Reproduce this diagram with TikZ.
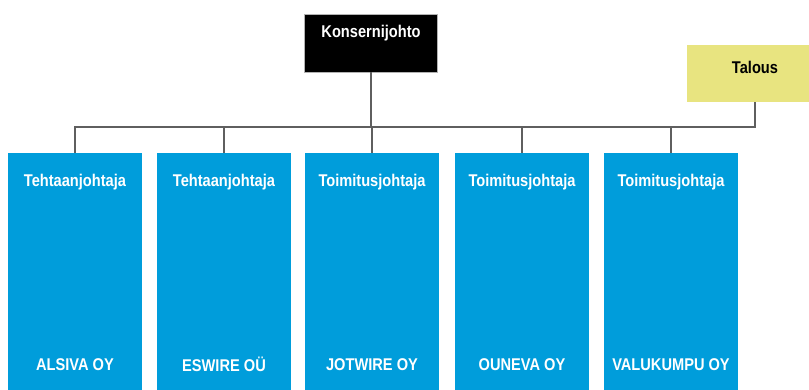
\documentclass[tikz,border=0pt]{standalone}
\usepackage{fontspec}
\setmainfont{Liberation Sans}[FakeStretch=0.86]
\definecolor{unitblue}{RGB}{0,157,219}
\definecolor{talousyellow}{RGB}{232,228,128}
\definecolor{linkgray}{RGB}{95,95,95}

\begin{document}
\begin{tikzpicture}[x=1pt,y=-1pt,
  unit/.style={fill=unitblue,minimum width=134pt,minimum height=237pt,inner sep=0pt},
  boxtext/.style={text=white,font=\bfseries\fontsize{17}{20}\selectfont,inner sep=0pt},
  link/.style={draw=linkgray,line width=1.6pt}]
  \useasboundingbox (0,0) rectangle (809,390);

  % top level
  \node[fill=black,draw=gray!60,line width=0.8pt,minimum width=133pt,minimum height=58pt] (konserni) at (371,43) {};
  \node[boxtext] (konsernitext) at ([yshift=10pt]konserni.center) {Konsernijohto};
  \node[fill=talousyellow,minimum width=136pt,minimum height=57pt,inner sep=0pt] (talous) at (755,73.5) {};
  \node[boxtext,text=black] (taloustext) at ([yshift=6.5pt]talous.center) {Talous};

  % units
  \node[unit] (alsiva) at (75,271.5) {};
  \node[unit] (eswire) at (224,271.5) {};
  \node[unit] (jotwire) at (372,271.5) {};
  \node[unit] (ouneva) at (522,271.5) {};
  \node[unit] (valukumpu) at (671,271.5) {};

  \node[boxtext] (alsivarole) at ([yshift=-29pt]alsiva.north) {Tehtaanjohtaja};
  \node[boxtext] (eswirerole) at ([yshift=-29pt]eswire.north) {Tehtaanjohtaja};
  \node[boxtext] (jotwirerole) at ([yshift=-29pt]jotwire.north) {Toimitusjohtaja};
  \node[boxtext] (ounevarole) at ([yshift=-29pt]ouneva.north) {Toimitusjohtaja};
  \node[boxtext] (valukumpurole) at ([yshift=-29pt]valukumpu.north) {Toimitusjohtaja};

  \node[boxtext] (alsivaname) at ([yshift=26pt]alsiva.south) {ALSIVA OY};
  \node[boxtext] (eswirename) at ([yshift=26pt]eswire.south) {ESWIRE OÜ};
  \node[boxtext] (jotwirename) at ([yshift=26pt]jotwire.south) {JOTWIRE OY};
  \node[boxtext] (ounevaname) at ([yshift=26pt]ouneva.south) {OUNEVA OY};
  \node[boxtext] (valukumpuname) at ([yshift=26pt]valukumpu.south) {VALUKUMPU OY};

  % connectors
  \coordinate (bus) at (0,127);
  \draw[link] (alsiva.north) -- (alsiva.north |- bus) -- (talous.south |- bus) -- (talous.south);
  \draw[link] (konserni.south) -- (konserni.south |- bus);
  \draw[link] (eswire.north) -- (eswire.north |- bus);
  \draw[link] (jotwire.north) -- (jotwire.north |- bus);
  \draw[link] (ouneva.north) -- (ouneva.north |- bus);
  \draw[link] (valukumpu.north) -- (valukumpu.north |- bus);
\end{tikzpicture}
\end{document}
